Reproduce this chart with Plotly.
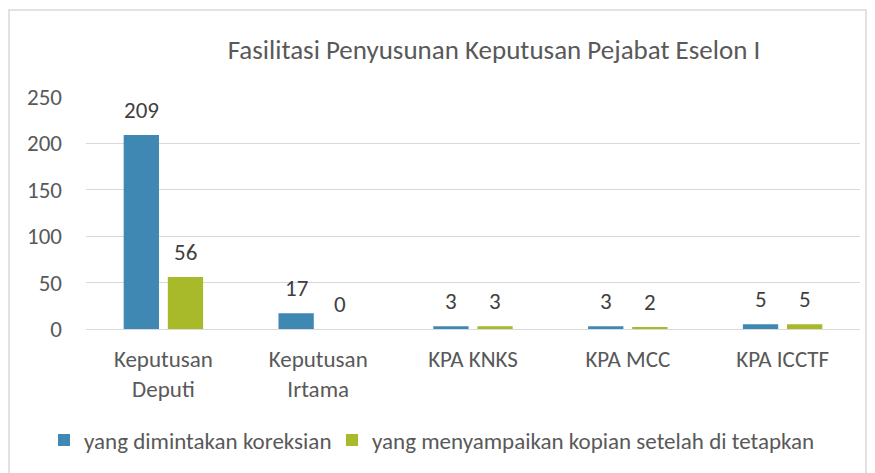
import plotly.graph_objects as go

categories = ["Keputusan<br>Deputi", "Keputusan<br>Irtama", "KPA KNKS", "KPA MCC", "KPA ICCTF"]
series_names = ["yang dimintakan koreksian", "yang menyampaikan kopian setelah di tetapkan"]
koreksian = [209, 17, 3, 3, 5]
kopian = [56, 0, 3, 2, 5]
y_ticks = [0, 50, 100, 150, 200, 250]

colors = ["#3F88B3", "#A8B929"]
FONT = "Carlito, Lato, sans-serif"

OFF = 8  # default body margin of the page
W, H = 875 - OFF, 473 - OFF
ML, MR, MT, MB = 86 - OFF, 875 - 860, 97 - OFF, 473 - 329
plot_w = W - ML - MR
plot_h = H - MT - MB
bargap = 0.43
bargroupgap = 0.2
cat_w = plot_w / len(categories)
slot = cat_w * (1 - bargap) / 2


def px_x(page_x):
    return (page_x - OFF - ML) / plot_w


def px_y(page_y):
    return (H - MB - (page_y - OFF)) / plot_h


fig = go.Figure()
legend_widths = [243, None]
for name, vals, col, lw in zip(series_names, [koreksian, kopian], colors, legend_widths):
    kw = dict(legendwidth=lw) if lw else {}
    fig.add_trace(go.Bar(x=categories, y=vals, name=name,
                         marker=dict(color=col, line=dict(width=0)), **kw))

annotations = []
for i, vals in enumerate([koreksian, kopian]):
    shift = (-0.5 if i == 0 else 0.5) * slot
    for c, v in zip(categories, vals):
        annotations.append(dict(x=c, y=v, xref="x", yref="y", text=str(v), showarrow=False,
                                xshift=shift, yshift=25, yanchor="middle",
                                font=dict(family=FONT, size=23, color="#404040")))

fig.update_layout(
    width=W, height=H,
    margin=dict(l=ML, r=MR, t=MT, b=MB),
    paper_bgcolor="white", plot_bgcolor="white",
    barmode="group", bargap=bargap, bargroupgap=bargroupgap,
    font=dict(family=FONT, size=23, color="#595959"),
    title=dict(text="Fasilitasi Penyusunan Keputusan Pejabat Eselon I",
               x=px_x(494), xref="paper", xanchor="center",
               y=1 - (50 - OFF) / H, yref="container", yanchor="middle",
               font=dict(family=FONT, size=27, color="#595959")),
    xaxis=dict(showgrid=False, showline=False, ticks="", ticklabelstandoff=14,
               tickfont=dict(family=FONT, size=23, color="#595959")),
    yaxis=dict(range=[0, 250], tickvals=y_ticks, showgrid=True, gridcolor="#D9D9D9", gridwidth=1,
               zeroline=True, zerolinecolor="#D9D9D9", zerolinewidth=1, ticks="",
               ticklabelstandoff=23, tickfont=dict(family=FONT, size=23, color="#595959")),
    legend=dict(orientation="h", x=px_x(44), xanchor="left",
                y=px_y(440), yanchor="middle",
                font=dict(family=FONT, size=23, color="#595959"),
                itemwidth=30, bgcolor="rgba(0,0,0,0)"),
    annotations=annotations,
    shapes=[dict(type="rect", xref="paper", yref="paper",
                 x0=px_x(9), x1=px_x(866),
                 y0=px_y(495), y1=px_y(10),
                 line=dict(color="#D9D9D9", width=1.5), fillcolor="rgba(0,0,0,0)", layer="below")],
    showlegend=True,
)

fig.write_html("out.html")
